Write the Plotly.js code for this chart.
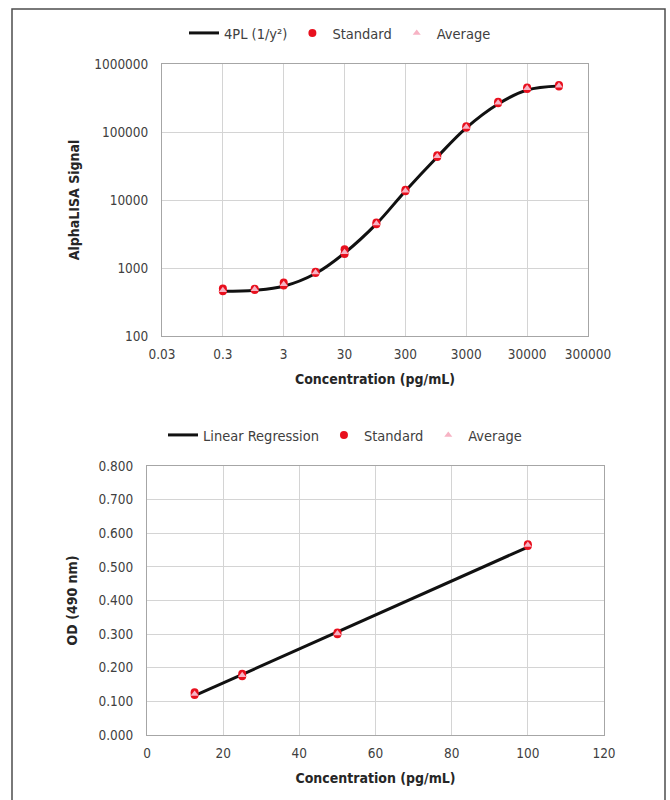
<!DOCTYPE html>
<html>
<head>
<meta charset="utf-8">
<script src="https://cdn.plot.ly/plotly-3.0.1.min.js"></script>
<style>
html,body{margin:0;padding:0;background:#fff;}
#chart{width:670px;height:800px;}
</style>
</head>
<body>
<div id="chart"></div>
<script>
// ---- Top chart (AlphaLISA, 4PL) ----
const concTop = [0.3, 1, 3, 10, 30, 100, 300, 1000, 3000, 10000, 30000, 100000];
const stdTopRep1 = [500, 495, 610, 880, 1880, 4650, 14200, 45500, 121000, 278000, 452000, 492000];
const stdTopRep2 = [455, 475, 555, 845, 1600, 4400, 13400, 42800, 115000, 264000, 428000, 468000];
const avgTop = [470, 485, 575, 860, 1700, 4500, 13700, 44000, 118000, 270000, 440000, 480000];
const fitTop = [455, 472, 540, 830, 1660, 4450, 13600, 43000, 115000, 258000, 415000, 475000];
const xTicksTop = [0.03, 0.3, 3, 30, 300, 3000, 30000, 300000];
const xTickTextTop = ["0.03", "0.3", "3", "30", "300", "3000", "30000", "300000"];
const yTicksTop = [100, 1000, 10000, 100000, 1000000];
const yTickTextTop = ["100", "1000", "10000", "100000", "1000000"];

// ---- Bottom chart (OD, linear regression) ----
const concBot = [12.5, 25, 50, 100];
const stdBotRep1 = [0.127, 0.182, 0.305, 0.567];
const stdBotRep2 = [0.119, 0.175, 0.300, 0.562];
const avgBot = [0.122, 0.178, 0.302, 0.565];
const fitBotX = [12.5, 100];
const fitBotY = [0.117, 0.559];

const FONT = "'DejaVu Sans Condensed', 'DejaVu Sans', sans-serif";
const RED = '#e8101e';
const PINK = '#f7b3c4';
const W = 670, H = 800;
const px = v => v / W;
const py = v => 1 - v / H;

const traces = [
  {x: concTop, y: fitTop, type: 'scatter', mode: 'lines', name: '4PL (1/y²)',
   line: {color: '#111', width: 3, shape: 'spline', smoothing: 1}, xaxis: 'x', yaxis: 'y', legend: 'legend'},
  {x: concTop.concat(concTop), y: stdTopRep1.concat(stdTopRep2), type: 'scatter', mode: 'markers', name: 'Standard',
   marker: {color: RED, size: 8, symbol: 'circle'}, xaxis: 'x', yaxis: 'y', legend: 'legend'},
  {x: concTop, y: avgTop, type: 'scatter', mode: 'markers', name: 'Average',
   marker: {color: PINK, size: 7, symbol: 'triangle-up'}, xaxis: 'x', yaxis: 'y', legend: 'legend'},

  {x: fitBotX, y: fitBotY, type: 'scatter', mode: 'lines', name: 'Linear Regression',
   line: {color: '#111', width: 3}, xaxis: 'x2', yaxis: 'y2', legend: 'legend2'},
  {x: concBot.concat(concBot), y: stdBotRep1.concat(stdBotRep2), type: 'scatter', mode: 'markers', name: 'Standard',
   marker: {color: RED, size: 8, symbol: 'circle'}, xaxis: 'x2', yaxis: 'y2', legend: 'legend2'},
  {x: concBot, y: avgBot, type: 'scatter', mode: 'markers', name: 'Average',
   marker: {color: PINK, size: 7, symbol: 'triangle-up'}, xaxis: 'x2', yaxis: 'y2', legend: 'legend2'}
];

const axisCommon = {
  showline: true, linecolor: '#a6a6a6', linewidth: 1, mirror: true,
  showgrid: true, gridcolor: '#d4d4d4', gridwidth: 1,
  zeroline: false, ticks: '', tickfont: {family: FONT, size: 13.5, color: '#404040'},
  fixedrange: true
};
const titleFont = {family: FONT, size: 14, color: '#262626', weight: 'bold'};
const legendFont = {family: FONT, size: 14.5, color: '#404040'};

const layout = {
  width: W, height: H,
  margin: {l: 0, r: 0, t: 0, b: 0},
  paper_bgcolor: '#fff', plot_bgcolor: '#fff',
  font: {family: FONT, color: '#404040'},
  showlegend: true,
  xaxis: Object.assign({}, axisCommon, {
    type: 'log', range: [Math.log10(0.03), Math.log10(300000)],
    tickvals: xTicksTop, ticktext: xTickTextTop, ticklabelstandoff: 6,
    domain: [px(162), px(588)], anchor: 'y',
    title: {text: 'Concentration (pg/mL)', font: titleFont, standoff: 12}
  }),
  yaxis: Object.assign({}, axisCommon, {
    type: 'log', range: [2, 6],
    tickvals: yTicksTop, ticktext: yTickTextTop, ticklabelstandoff: 10,
    domain: [py(336), py(64)], anchor: 'x',
    title: {text: 'AlphaLISA Signal', font: titleFont, standoff: 11}
  }),
  xaxis2: Object.assign({}, axisCommon, {
    range: [0, 120], dtick: 20, tick0: 0, ticklabelstandoff: 6,
    domain: [px(147), px(604)], anchor: 'y2',
    title: {text: 'Concentration (pg/mL)', font: titleFont, standoff: 12}
  }),
  yaxis2: Object.assign({}, axisCommon, {
    range: [0, 0.8], dtick: 0.1, tick0: 0, tickformat: '.3f', ticklabelstandoff: 10,
    domain: [py(735), py(466)], anchor: 'x2',
    title: {text: 'OD (490 nm)', font: titleFont, standoff: 17}
  }),
  legend: {
    orientation: 'h', x: px(340), xanchor: 'center', y: py(33), yanchor: 'middle',
    font: legendFont, bgcolor: 'rgba(0,0,0,0)', itemwidth: 30, tracegroupgap: 0
  },
  legend2: {
    orientation: 'h', x: px(345), xanchor: 'center', y: py(435), yanchor: 'middle',
    font: legendFont, bgcolor: 'rgba(0,0,0,0)', itemwidth: 30, tracegroupgap: 0
  },
  shapes: [
    {type: 'rect', xref: 'paper', yref: 'paper', x0: px(12), x1: px(665), y0: -0.05, y1: py(9),
     line: {color: '#4d4d4d', width: 1.5}, fillcolor: 'rgba(0,0,0,0)', layer: 'below'}
  ]
};

Plotly.newPlot('chart', traces, layout, {displayModeBar: false, staticPlot: true});
</script>
</body>
</html>
